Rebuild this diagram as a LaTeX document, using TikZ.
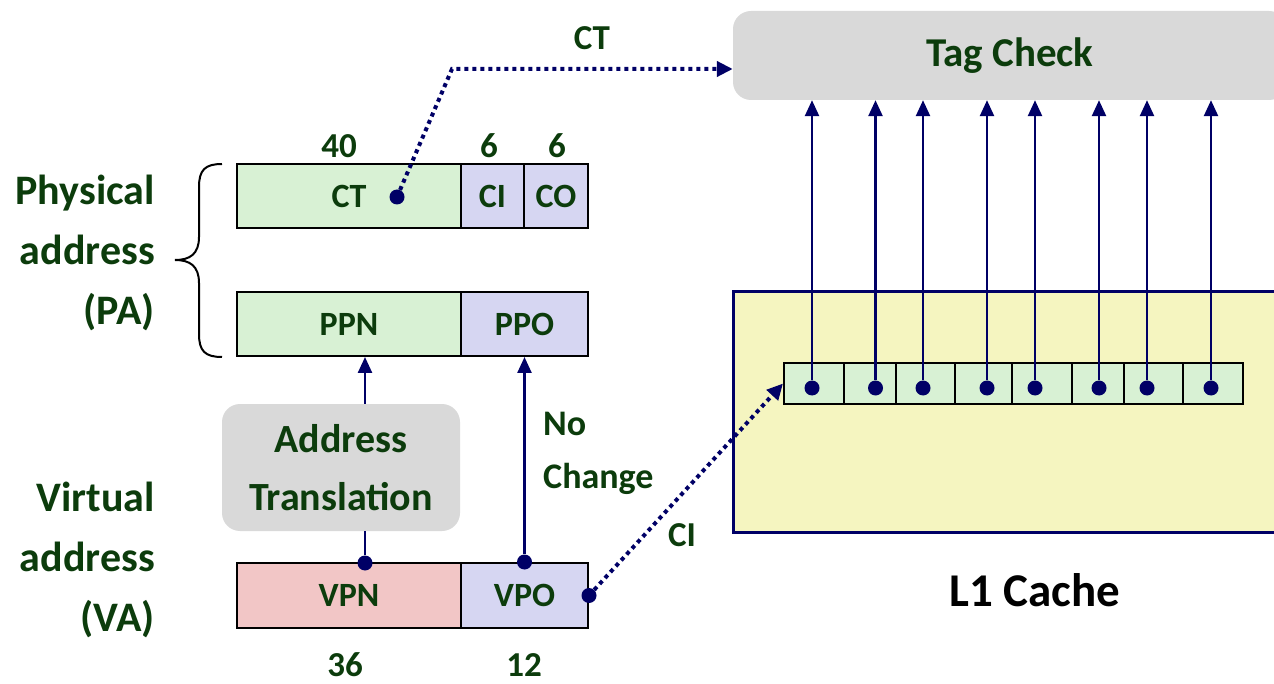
\documentclass[tikz,border=0pt]{standalone}
\usepackage{fontspec}
\setmainfont{Carlito}
\usetikzlibrary{arrows.meta}
\definecolor{txtgreen}{RGB}{12,60,12}
\definecolor{navy}{RGB}{0,0,102}
\definecolor{boxgray}{RGB}{217,217,217}
\definecolor{tagfill}{RGB}{216,241,212}
\definecolor{offfill}{RGB}{214,214,242}
\definecolor{vpnfill}{RGB}{242,198,198}
\definecolor{cachefill}{RGB}{245,245,192}
\tikzset{
  field/.style={draw=black, line width=2pt, inner sep=0pt, text=txtgreen,
    font=\fontsize{34}{40}\selectfont\bfseries, minimum height=64pt},
  cell/.style={draw=black, line width=2pt, fill=tagfill, inner sep=0pt, minimum height=41pt},
  graybox/.style={fill=boxgray, rounded corners=18pt, inner sep=0pt, text=txtgreen},
  lbl/.style={text=txtgreen, inner sep=0pt, font=\fontsize{35}{40}\selectfont\bfseries},
  big/.style={text=txtgreen, inner sep=0pt, font=\fontsize{42}{60}\selectfont\bfseries, align=right, anchor=east},
  wire/.style={navy, line width=2.5pt, -{Triangle[length=16pt,width=14pt]}},
  dots/.style={navy, line width=4pt, dash pattern=on 4pt off 4pt, -{Triangle[length=16pt,width=15pt]}},
  dot/.style={circle, fill=navy, inner sep=0pt, minimum size=15pt}
}
\begin{document}
\begin{tikzpicture}[x=1pt,y=-1pt]
\useasboundingbox (0,0) rectangle (1274,684);
\node[graybox, minimum width=554pt, minimum height=89pt, font=\fontsize{41}{48}\selectfont\bfseries] (tag) at (1010,55.5) {Tag Check};
\node[draw=navy, line width=3pt, fill=cachefill, minimum width=557pt, minimum height=240pt] (l1) at (1011.5,412) {};
\node[font=\fontsize{47}{56}\selectfont\bfseries] (l1lbl) at (1035,590) {L1 Cache};
\foreach \l/\r/\d [count=\i] in {784/844/812, 844/896/875.5, 896/955/923, 955/1012/987,
  1012/1072/1035, 1072/1124/1099, 1124/1183/1147, 1183/1243/1211} {
  \node[cell, minimum width={\r-\l}] (c\i) at ({(\l+\r)/2},383.5) {};
  \node[dot] (d\i) at (\d,388) {};
  \draw[wire] (d\i) -- (d\i |- tag.south);
}
\node[field, fill=tagfill, minimum width=224pt] (ct) at (349,196.5) {CT};
\node[field, fill=offfill, minimum width=63pt] (ci) at (492.5,196.5) {CI};
\node[field, fill=offfill, minimum width=64pt] (co) at (556,196.5) {CO};
\node[field, fill=tagfill, minimum width=224pt] (ppn) at (349,324) {PPN};
\node[field, fill=offfill, minimum width=127pt] (ppo) at (524.5,324) {PPO};
\node[field, fill=vpnfill, minimum width=224pt, minimum height=65pt] (vpn) at (349,595.5) {VPN};
\node[field, fill=offfill, minimum width=127pt, minimum height=65pt] (vpo) at (524.5,595.5) {VPO};
\node[lbl] (n40) at (339,146) {40};
\node[lbl] (n6a) at (489,146) {6};
\node[lbl] (n6b) at (557,146) {6};
\node[lbl] (n36) at (345,665) {36};
\node[lbl] (n12) at (524,665) {12};
\node[big] (palbl) at (155,253) {Physical\\address\\(PA)};
\node[big] (valbl) at (155,560) {Virtual\\address\\(VA)};
\draw[line width=2pt] (222,164) .. controls (205,164) and (199,170) .. (199,187) -- (199,237)
  .. controls (199,254) and (190,260) .. (175,260) .. controls (190,260) and (199,266) .. (199,283)
  -- (199,334) .. controls (199,351) and (205,357) .. (222,357);
\node[graybox, minimum width=238pt, minimum height=127pt, align=center,
  font=\fontsize{40}{58}\selectfont\bfseries] (at) at (341,467.5) {Address\\Translation};
\node[dot] (vpndot) at (365,563) {};
\draw[navy, line width=2.5pt] (vpndot) -- (vpndot |- at.south);
\draw[wire] (at.north -| vpndot) -- (ppn.south -| vpndot);
\node[dot] (vpodot) at (vpo.north) {};
\draw[wire] (vpodot) -- (ppo.south);
\node[lbl, align=left, anchor=west, font=\fontsize{36}{53}\selectfont\bfseries] (nochg) at (543,453) {No\\Change};
\node[dot] (cidot) at (vpo.east) {};
\draw[dots] (cidot) -- (c1.west);
\node[lbl] (cilbl) at (682,535) {CI};
\node[dot] (ctdot) at (397,197) {};
\coordinate (ctbend) at (452,69);
\draw[dots] (ctdot) -- (ctbend) -- (ctbend -| tag.west);
\node[lbl] (ctlbl) at (592,38) {CT};
\end{tikzpicture}
\end{document}
